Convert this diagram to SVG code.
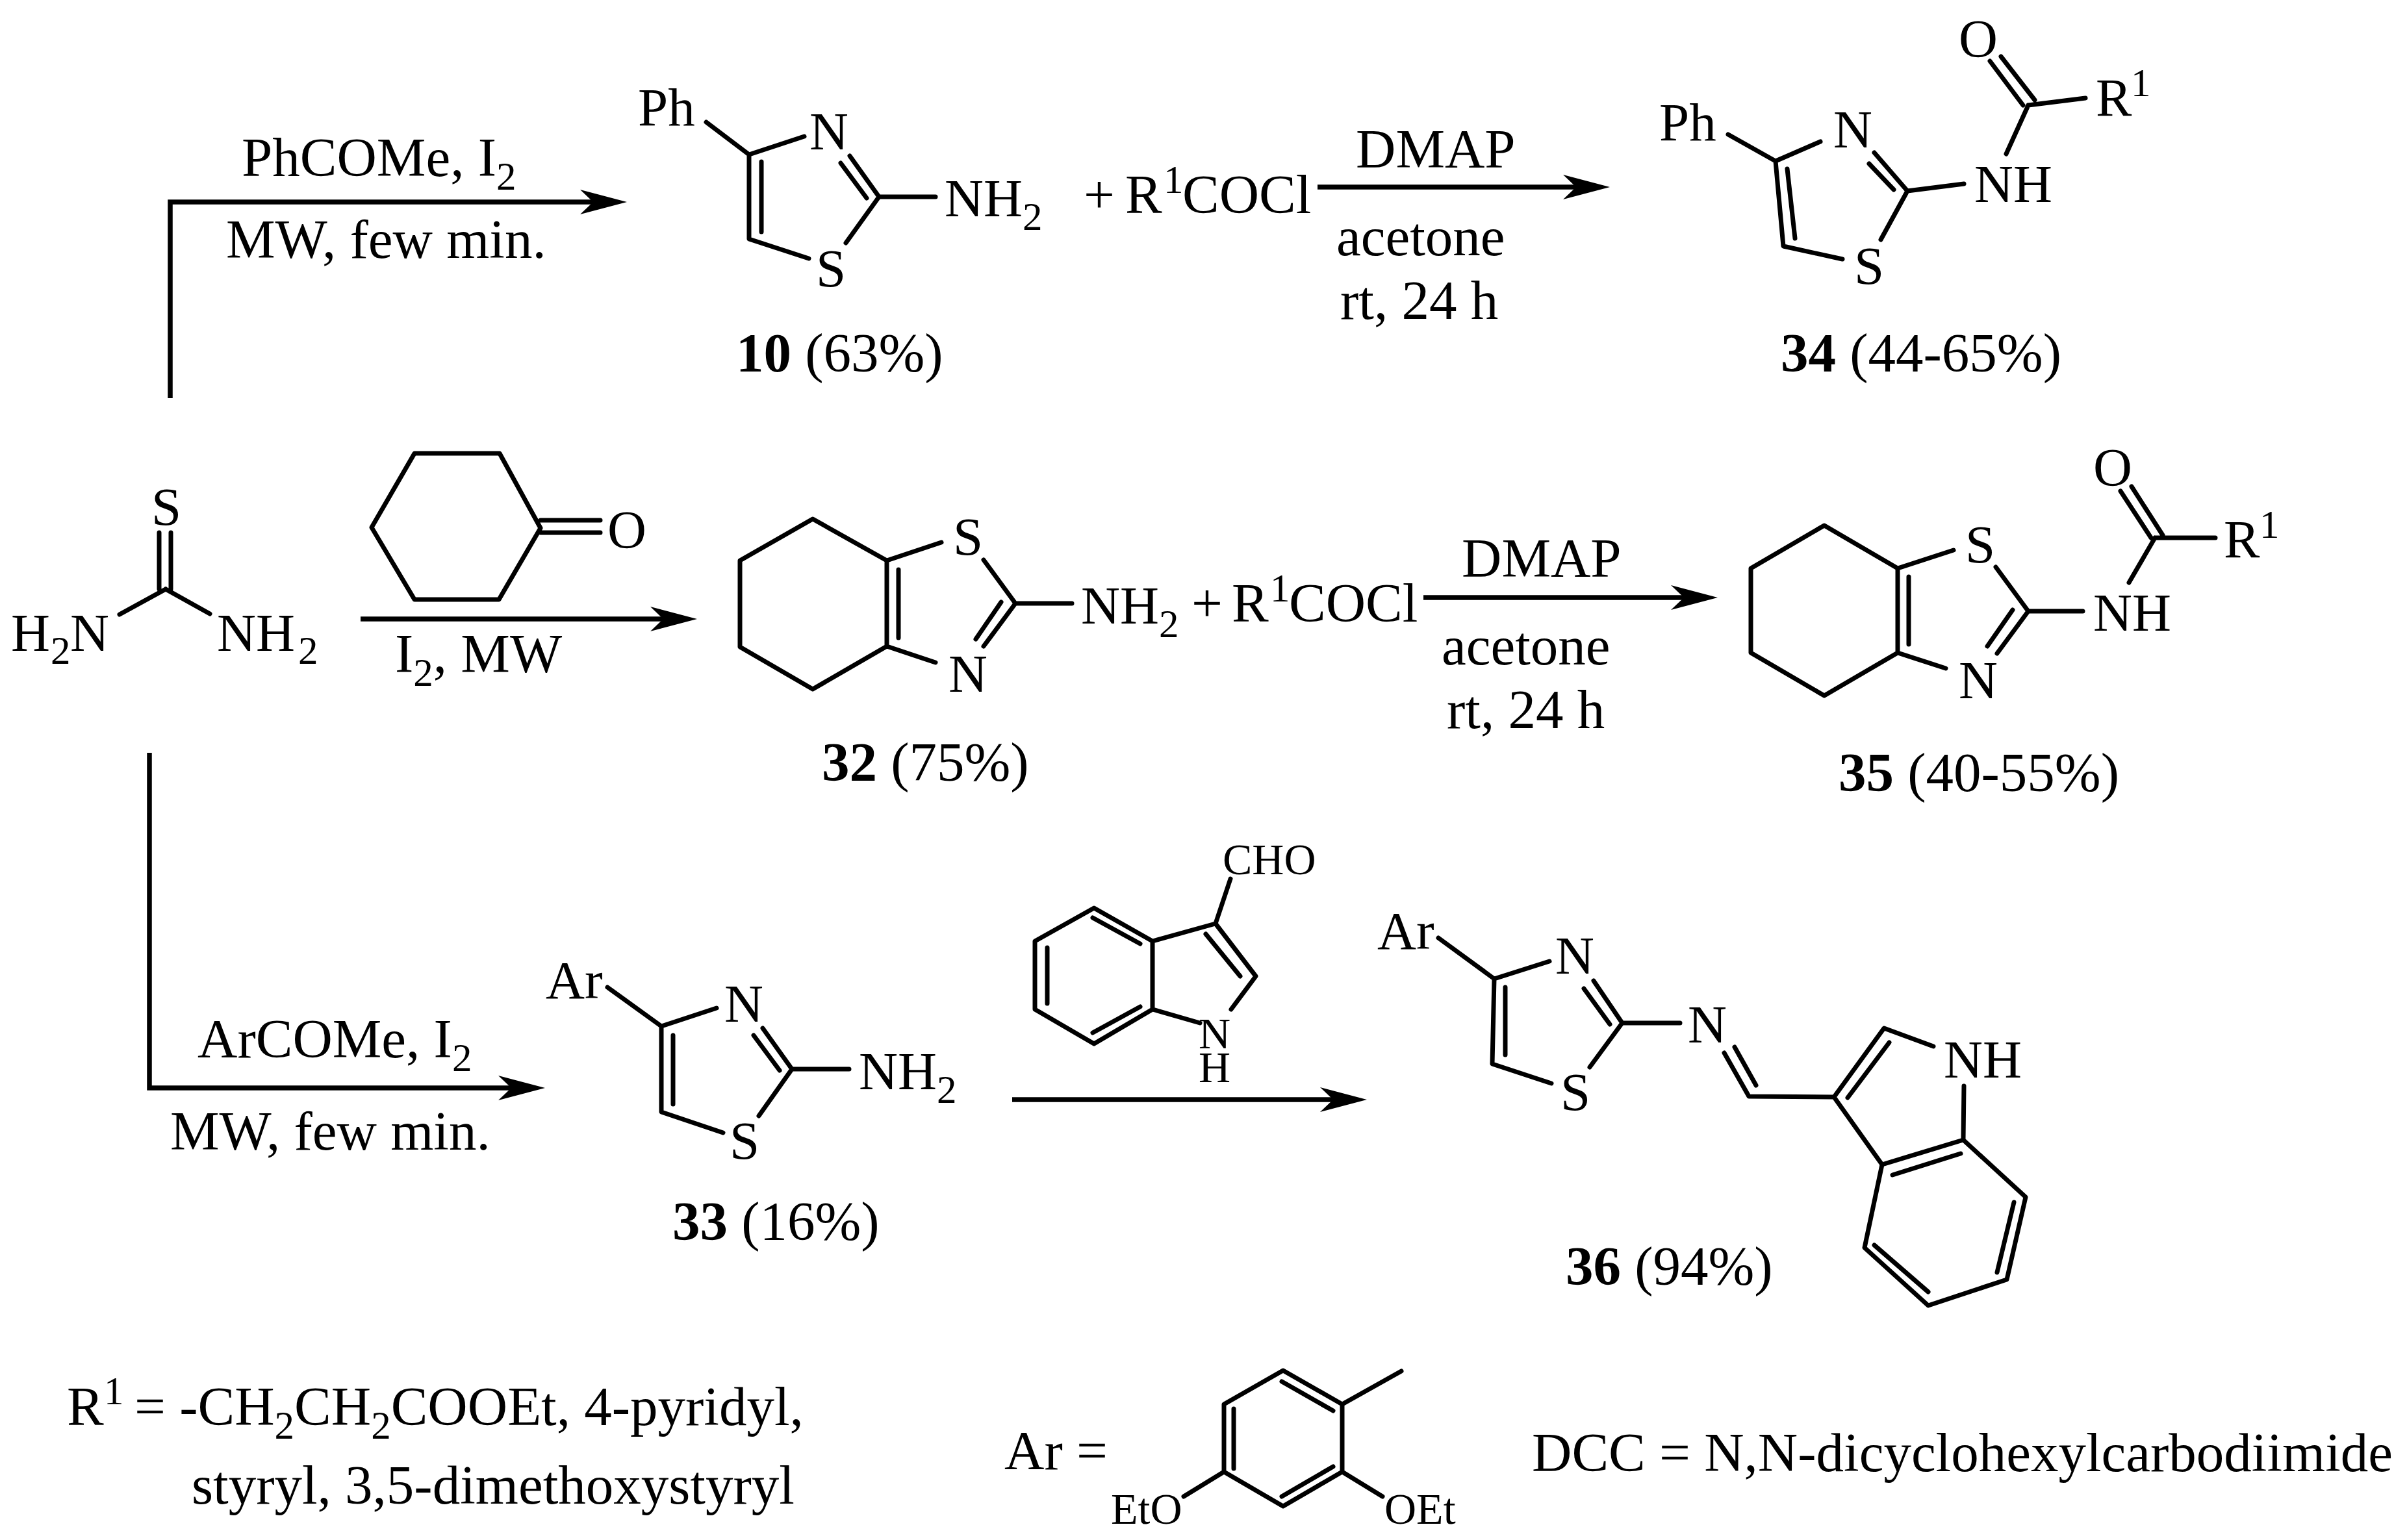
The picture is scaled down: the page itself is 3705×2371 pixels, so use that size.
<svg xmlns="http://www.w3.org/2000/svg" width="3705" height="2371" viewBox="0 0 3705 2371">
<style>
text{font-family:"Liberation Serif","Times New Roman",serif;font-size:85px;fill:#000}
.a{font-size:83px}
.sm{font-size:68px}
.s{font-size:61px}
.b{fill:none;stroke:#000;stroke-width:7;stroke-linecap:round;stroke-linejoin:round}
.c{fill:none;stroke:#000;stroke-width:7.5;stroke-linejoin:miter}
.bd{font-weight:bold}
</style>
<defs>
<marker id="head" markerUnits="userSpaceOnUse" markerWidth="72" markerHeight="38" refX="20" refY="19" viewBox="0 0 72 38" orient="auto"><path d="M0 0L72 19L0 38L20 19Z" fill="#000"/></marker>
</defs>
<rect width="3705" height="2371" fill="#fff"/>
<g id="connectors">
<path class="c" marker-end="url(#head)" d="M262 613V311H913"/>
<path class="c" marker-end="url(#head)" d="M555 953H1021"/>
<path class="c" marker-end="url(#head)" d="M2028 288H2426"/>
<path class="c" marker-end="url(#head)" d="M2191 920H2592"/>
<path class="c" marker-end="url(#head)" d="M230 1159V1675H787"/>
<path class="c" marker-end="url(#head)" d="M1558 1693H2052"/>
</g>
<g id="labels">
<text x="372" y="271">PhCOMe, I<tspan class="s" dy="21">2</tspan></text>
<text x="348" y="397">MW, few min.</text>
<text x="608" y="1035">I<tspan class="s" dy="21">2</tspan><tspan dy="-21">, MW</tspan></text>
<text x="1668" y="328">+</text>
<text x="1732" y="328">R<tspan class="s" x="1791" dy="-31">1</tspan><tspan x="1820" dy="31">COCl</tspan></text>
<text x="2087" y="258">DMAP</text>
<text x="2057" y="393">acetone</text>
<text x="2063" y="491">rt, 24 h</text>
<text x="1834" y="957">+</text>
<text x="1896" y="957">R<tspan class="s" x="1955" dy="-31">1</tspan><tspan x="1984" dy="31">COCl</tspan></text>
<text x="2250" y="888">DMAP</text>
<text x="2219" y="1023">acetone</text>
<text x="2227" y="1121">rt, 24 h</text>
<text x="304" y="1628">ArCOMe, I<tspan class="s" dy="21">2</tspan></text>
<text x="262" y="1770">MW, few min.</text>
<text x="103" y="2194">R<tspan class="s" x="160" dy="-32">1</tspan><tspan x="207" dy="32">= -CH</tspan><tspan class="s" dy="21">2</tspan><tspan dy="-21">CH</tspan><tspan class="s" dy="21">2</tspan><tspan dy="-21">COOEt, 4-pyridyl,</tspan></text>
<text x="295" y="2315">styryl, 3,5-dimethoxystyryl</text>
<text x="1546" y="2262">Ar =</text>
<text x="2358" y="2265">DCC = N,N-dicyclohexylcarbodiimide</text>
</g>
<g id="thiourea">
<path class="b" d="M245 820V907M263 820V907M255 907L184 946M255 907L323 945"/>
<text class="a" x="233" y="808">S</text>
<text class="a" x="17" y="1002">H<tspan class="s" x="78" dy="20">2</tspan><tspan x="108" dy="-20">N</tspan></text>
<text class="a" x="334" y="1002">NH<tspan class="s" x="459" dy="20">2</tspan></text>
</g>
<g id="cyclohexanone">
<path class="b" d="M638 698H769L832 813L768 923H638L572 812ZM832 801H924M832 820H924"/>
<text class="a" x="935" y="843">O</text>
</g>
<g id="compound-10">
<path class="b" d="M1087 188L1153 238L1238 210M1153 238V368L1245 398M1172 249V357M1353 303L1308 240M1294 251L1334 305M1353 303H1440M1353 303L1302 374"/>
<text class="a" x="982" y="193">Ph</text>
<text class="a" x="1246" y="230">N</text>
<text class="a" x="1256" y="441">S</text>
<text class="a" x="1454" y="333">NH<tspan class="s" dy="21">2</tspan></text>
<text x="1133" y="572"><tspan class="bd">10</tspan> (63%)</text>
</g>
<g id="compound-34">
<path class="b" d="M2660 207L2733 248L2802 218M2733 248L2745 379L2836 399M2751 260L2763 367M2936 294L2885 235M2877 252L2915 292M2936 294L3023 283M2936 294L2895 369M3122 162L3088 237M3122 162L3210 151M3080 87L3132 154M3063 94L3114 162"/>
<text class="a" x="2554" y="216">Ph</text>
<text class="a" x="2822" y="227">N</text>
<text class="a" x="2854" y="437">S</text>
<text class="a" x="3039" y="311">NH</text>
<text class="a" x="3015" y="87">O</text>
<text class="a" x="3226" y="178">R<tspan class="s" x="3280" dy="-30">1</tspan></text>
<text x="2741" y="572"><tspan class="bd">34</tspan> (44-65%)</text>
</g>
<g id="compound-32">
<path class="b" d="M1365 863L1251 799L1139 863V996L1251 1061L1365 995ZM1383 877V982M1365 863L1449 835M1514 862L1563 929L1514 995M1541 927L1502 984M1563 929H1650M1365 995L1440 1020"/>
<text class="a" x="1467" y="854">S</text>
<text class="a" x="1460" y="1065">N</text>
<text class="a" x="1664" y="960">NH<tspan class="s" dy="21">2</tspan></text>
<text x="1265" y="1202"><tspan class="bd">32</tspan> (75%)</text>
</g>
<g id="compound-35">
<path class="b" d="M2921 875L2808 809L2695 875V1005L2808 1071L2921 1005ZM2938 888V992M2921 875L3007 847M3072 873L3122 941L3074 1006M3098 939L3059 995M3122 941H3206M2921 1005L2995 1029M3317 828L3277 897M3317 828H3410M3281 749L3329 824M3264 756L3311 828"/>
<text class="a" x="3025" y="866">S</text>
<text class="a" x="3015" y="1075">N</text>
<text class="a" x="3222" y="971">NH</text>
<text class="a" x="3222" y="747">O</text>
<text class="a" x="3423" y="858">R<tspan class="s" x="3478" dy="-30">1</tspan></text>
<text x="2830" y="1218"><tspan class="bd">35</tspan> (40-55%)</text>
</g>
<g id="compound-33">
<path class="b" d="M935 1520L1018 1580L1103 1552M1018 1580V1712L1113 1744M1036 1594V1700M1219 1646L1174 1583M1160 1594L1200 1648M1219 1646H1307M1219 1646L1168 1718"/>
<text class="a" x="840" y="1537">Ar</text>
<text class="a" x="1115" y="1573">N</text>
<text class="a" x="1123" y="1784">S</text>
<text class="a" x="1322" y="1677">NH<tspan class="s" dy="21">2</tspan></text>
<text x="1035" y="1909"><tspan class="bd">33</tspan> (16%)</text>
</g>
<g id="indole-3-carbaldehyde">
<path class="b" d="M1774 1449L1684 1398L1593 1449V1554L1684 1607L1774 1554ZM1682 1413L1755 1453M1612 1459V1545M1682 1590L1755 1550M1774 1449L1871 1422L1933 1503L1895 1554M1856 1438L1909 1503M1774 1554L1847 1575M1871 1422L1894 1353"/>
<text class="sm" x="1882" y="1346">CHO</text>
<text class="sm" x="1845" y="1614">N<tspan x="1845" dy="52">H</tspan></text>
</g>
<g id="compound-36">
<path class="b" d="M2214 1444L2300 1507L2385 1480M2300 1507L2297 1638L2388 1668M2317 1520V1624M2497 1575L2453 1510M2438 1522L2478 1577M2497 1575H2586M2497 1575L2447 1643M2654 1621L2692 1688L2823 1689L2900 1583L2976 1611M2670 1612L2703 1671M2844 1690L2908 1605M2823 1689L2897 1793L3022 1755L3023 1672M2913 1809L3018 1776M3022 1755L3118 1843L3089 1970L2968 2010L2870 1921L2897 1793M3100 1851L3074 1959M2885 1917L2968 1989"/>
<text class="a" x="2120" y="1461">Ar</text>
<text class="a" x="2394" y="1499">N</text>
<text class="a" x="2402" y="1709">S</text>
<text class="a" x="2598" y="1605">N</text>
<text class="a" x="2992" y="1659">NH</text>
<text x="2410" y="1978"><tspan class="bd">36</tspan> (94%)</text>
</g>
<g id="ar-group">
<path class="b" d="M1975 2110L2066 2162V2266L1975 2319L1884 2266V2162ZM2066 2162L2157 2111M1973 2127L2052 2172M1899 2169V2261M2052 2258L1973 2304M2066 2266L2128 2304M1884 2266L1822 2304"/>
<text class="sm" x="2131" y="2346">OEt</text>
<text class="sm" x="1710" y="2346">EtO</text>
</g>
</svg>
